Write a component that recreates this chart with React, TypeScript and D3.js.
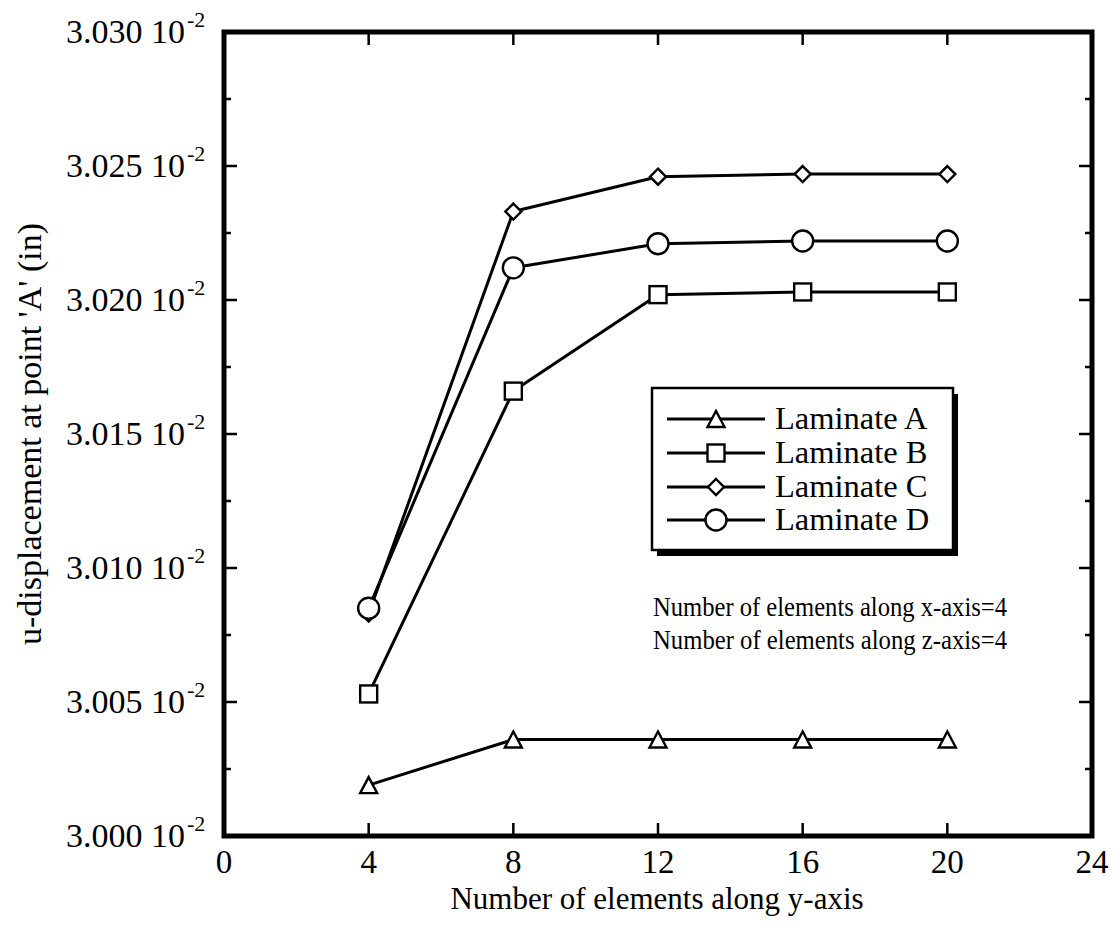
import React from "react";
import * as d3 from "d3";

// Mesh-convergence study: u-displacement at point 'A' vs number of elements along y
const elementsY = [4, 8, 12, 16, 20];
const laminateA = [3.0019, 3.0036, 3.0036, 3.0036, 3.0036];
const laminateB = [3.0053, 3.0166, 3.0202, 3.0203, 3.0203];
const laminateC = [3.0083, 3.0233, 3.0246, 3.0247, 3.0247];
const laminateD = [3.0085, 3.0212, 3.0221, 3.0222, 3.0222];
const seriesNames = ["Laminate A", "Laminate B", "Laminate C", "Laminate D"];
const markerKinds = ["triangle", "square", "diamond", "circle"];
const xTicks = [0, 4, 8, 12, 16, 20, 24];
const yTicks = [3.0, 3.005, 3.01, 3.015, 3.02, 3.025, 3.03];
const yMinorTicks = [3.0025, 3.0075, 3.0125, 3.0175, 3.0225, 3.0275];
const noteLines = [
  "Number of elements along x-axis=4",
  "Number of elements along z-axis=4",
];

const W = 1120;
const H = 940;
const left = 224;
const right = 1092;
const top = 32;
const bottom = 836;
const FONT = "'Liberation Serif', 'Times New Roman', serif";

function Marker({ kind, x, y }: { kind: string; x: number; y: number }) {
  const common = { fill: "#fff", stroke: "#000", strokeWidth: 2.4 };
  if (kind === "triangle") {
    return (
      <path
        d={`M${x},${y - 8}L${x + 8.5},${y + 8}L${x - 8.5},${y + 8}Z`}
        {...common}
      />
    );
  }
  if (kind === "square") {
    const s = 8.5;
    return <rect x={x - s} y={y - s} width={2 * s} height={2 * s} {...common} />;
  }
  if (kind === "diamond") {
    const s = 8;
    return (
      <path
        d={`M${x},${y - s}L${x + s},${y}L${x},${y + s}L${x - s},${y}Z`}
        {...common}
      />
    );
  }
  return <circle cx={x} cy={y} r={10.5} {...common} />;
}

export default function App() {
  const x = d3.scaleLinear().domain([0, 24]).range([left, right]);
  const y = d3.scaleLinear().domain([3.0, 3.03]).range([bottom, top]);
  const all = [laminateA, laminateB, laminateC, laminateD];
  const line = d3
    .line<number>()
    .x((_, i) => x(elementsY[i]))
    .y((v) => y(v));

  const legendX = 652;
  const legendY = 388;
  const legendW = 301;
  const legendH = 162;
  const rowY = [419, 453, 487, 520];

  return (
    <svg
      width={W}
      height={H}
      style={{ position: "absolute", left: 0, top: 0, background: "#fff" }}
      fontFamily={FONT}
    >
      <rect x={0} y={0} width={W} height={H} fill="#fff" />

      {/* data lines */}
      {all.map((vals, k) => (
        <path
          key={k}
          d={line(vals) || ""}
          fill="none"
          stroke="#000"
          strokeWidth={3}
          strokeLinejoin="round"
        />
      ))}
      {all.map((vals, k) =>
        vals.map((v, i) => (
          <Marker key={`${k}-${i}`} kind={markerKinds[k]} x={x(elementsY[i])} y={y(v)} />
        ))
      )}

      {/* ticks, inward on all four sides */}
      {xTicks.slice(1, -1).map((t) => (
        <g key={`xt${t}`}>
          <line x1={x(t)} x2={x(t)} y1={bottom} y2={bottom - 13} stroke="#000" strokeWidth={2.5} />
          <line x1={x(t)} x2={x(t)} y1={top} y2={top + 13} stroke="#000" strokeWidth={2.5} />
        </g>
      ))}
      {yTicks.slice(1, -1).map((t) => (
        <g key={`yt${t}`}>
          <line x1={left} x2={left + 13} y1={y(t)} y2={y(t)} stroke="#000" strokeWidth={2.5} />
          <line x1={right} x2={right - 13} y1={y(t)} y2={y(t)} stroke="#000" strokeWidth={2.5} />
        </g>
      ))}
      {yMinorTicks.map((t) => (
        <g key={`ym${t}`}>
          <line x1={left} x2={left + 7} y1={y(t)} y2={y(t)} stroke="#000" strokeWidth={2.5} />
          <line x1={right} x2={right - 7} y1={y(t)} y2={y(t)} stroke="#000" strokeWidth={2.5} />
        </g>
      ))}

      {/* frame */}
      <rect
        x={left}
        y={top}
        width={right - left}
        height={bottom - top}
        fill="none"
        stroke="#000"
        strokeWidth={5}
      />

      {/* tick labels */}
      {xTicks.map((t) => (
        <text key={`xl${t}`} x={x(t)} y={873} textAnchor="middle" fontSize={33}>
          {t}
        </text>
      ))}
      {yTicks.map((t) => (
        <text key={`yl${t}`} x={185} y={y(t) + 11} textAnchor="end" fontSize={34}>
          {`${t.toFixed(3)} 10`}
        </text>
      ))}
      {yTicks.map((t) => (
        <text key={`ye${t}`} x={187} y={y(t) - 5} textAnchor="start" fontSize={22}>
          -2
        </text>
      ))}

      {/* axis titles */}
      <text x={657} y={909} textAnchor="middle" fontSize={31}>
        Number of elements along y-axis
      </text>
      <text
        transform={`translate(41,${(top + bottom) / 2}) rotate(-90)`}
        textAnchor="middle"
        fontSize={34}
      >
        u-displacement at point 'A' (in)
      </text>

      {/* legend with drop shadow */}
      <rect x={legendX + 5} y={legendY + 6} width={legendW} height={legendH} fill="#000" />
      <rect
        x={legendX}
        y={legendY}
        width={legendW}
        height={legendH}
        fill="#fff"
        stroke="#000"
        strokeWidth={2.5}
      />
      {seriesNames.map((name, k) => (
        <g key={name}>
          <line x1={667} x2={765} y1={rowY[k]} y2={rowY[k]} stroke="#000" strokeWidth={3} />
          <Marker kind={markerKinds[k]} x={716} y={rowY[k]} />
          <text x={775} y={rowY[k] + 10} fontSize={32.5}>
            {name}
          </text>
        </g>
      ))}

      {/* mesh note */}
      {noteLines.map((s, i) => (
        <text key={s} x={653} y={616 + i * 33} fontSize={27} textLength={354} lengthAdjust="spacingAndGlyphs">
          {s}
        </text>
      ))}
    </svg>
  );
}
